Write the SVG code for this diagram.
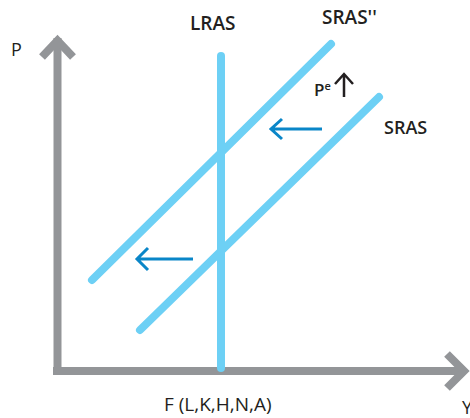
<svg xmlns="http://www.w3.org/2000/svg" width="470" height="418" viewBox="0 0 470 418">
<style>
.ax{stroke:#939598;stroke-width:8;fill:none}
.curve{stroke:#6dd0f5;stroke-width:8;stroke-linecap:round;fill:none}
.shift{stroke:#0a86c8;stroke-width:3;fill:none}
.lbl{font-family:"Open Sans",sans-serif;fill:#231f20}
.b{font-weight:600}
</style>
<rect width="470" height="418" fill="#fff"/>
<g id="axes">
<path class="ax" d="M57.5,375 V38"/>
<path class="ax" d="M42,57 L57.5,40.5 L73,57" stroke-linejoin="miter"/>
<path class="ax" d="M53,371 H465"/>
<path class="ax" d="M447,354 L464,371 L447,388"/>
</g>
<g id="connectors">
<path class="curve" d="M221,56 V368" stroke-linecap="butt" stroke-width="7"/>
<path class="curve" d="M92,280 L331,44"/>
<path class="curve" d="M140,330 L379,97"/>
<path class="shift" d="M322,129 H271 M282,119 L271,129 L282,139"/>
<path class="shift" d="M193,259 H137 M148,248 L137,259 L148,270"/>
<path d="M344,97 V74 M335,84 L344,74 L353,84" stroke="#231f20" stroke-width="2.5" fill="none"/>
</g>
<g id="labels">
<text class="lbl" x="11" y="56" font-size="18">P</text>
<text class="lbl b" x="190" y="30" font-size="19">LRAS</text>
<text class="lbl b" x="322" y="24" font-size="19">SRAS''</text>
<text class="lbl b" x="384" y="134" font-size="18">SRAS</text>
<text class="lbl b" x="314" y="96" font-size="17">P<tspan font-size="11" dy="-6">e</tspan></text>
<text class="lbl" x="164" y="411" font-size="19">F (L,K,H,N,A)</text>
<text class="lbl" x="462" y="414" font-size="18">Y</text>
</g>
</svg>
